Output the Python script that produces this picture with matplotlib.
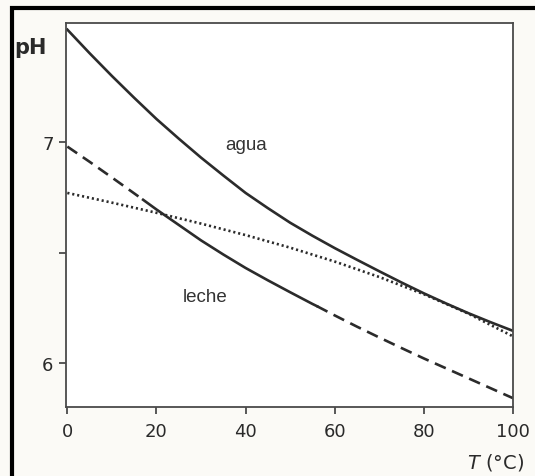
import matplotlib
matplotlib.use("Agg")
import matplotlib.pyplot as plt
from matplotlib.patches import Rectangle
import numpy as np

# ---- data ----
agua_T = [0, 5, 10, 15, 20, 25, 30, 35, 40, 45, 50, 55, 60, 65, 70, 75, 80, 85, 90, 95, 100]
agua_pH = [7.51, 7.403, 7.30, 7.201, 7.105, 7.016, 6.93, 6.849, 6.77, 6.701, 6.635,
           6.576, 6.52, 6.467, 6.415, 6.364, 6.315, 6.269, 6.225, 6.184, 6.145]

dotted_T = [0, 10, 20, 30, 40, 50, 60, 70, 80, 90, 100]
dotted_pH = [6.77, 6.726, 6.68, 6.631, 6.579, 6.522, 6.459, 6.389, 6.311, 6.223, 6.12]

leche_T = [0, 5, 10, 15, 17, 20, 25, 30, 35, 40, 45, 50, 55, 56, 60, 65, 70, 75, 80, 85, 90, 95, 100]
leche_pH = [6.98, 6.911, 6.84, 6.768, 6.739, 6.695, 6.625, 6.555, 6.491, 6.43, 6.374, 6.32,
            6.267, 6.257, 6.215, 6.164, 6.115, 6.067, 6.02, 5.975, 5.93, 5.885, 5.84]
leche_solid_from, leche_solid_to = 17, 56

x_ticks = [0, 20, 40, 60, 80, 100]
y_ticks = [6, 6.5, 7]
y_ticklabels = ["6", "", "7"]

# ---- figure ----
W, H = 535, 477
fig = plt.figure(figsize=(W / 100, H / 100), dpi=100)
fig.patch.set_facecolor("#fbfaf6")

left, right = 66 / W, 513 / W
bottom, top = (H - 408) / H, (H - 24) / H
ax = fig.add_axes([left, bottom, right - left, top - bottom])
ax.set_facecolor("#ffffff")

ink = "#2b2b2b"
lw = 1.9

ax.plot(agua_T, agua_pH, color=ink, lw=lw, solid_joinstyle="round")
ax.plot(dotted_T, dotted_pH, color=ink, lw=1.9, linestyle=(0, (0.8, 1.1)))

lT = np.array(leche_T)
lP = np.array(leche_pH)
m1 = lT <= leche_solid_from
m2 = (lT >= leche_solid_from) & (lT <= leche_solid_to)
m3 = lT >= leche_solid_to
dash = (0, (4.5, 2.6))
ax.plot(lT[m1], lP[m1], color=ink, lw=lw, linestyle=dash)
ax.plot(lT[m2], lP[m2], color=ink, lw=lw, solid_joinstyle="round")
ax.plot(lT[m3], lP[m3], color=ink, lw=lw, linestyle=dash)

ax.set_xlim(-0.3, 100)
ax.set_ylim(5.80, 7.54)

ax.set_xticks(x_ticks)
ax.set_yticks(y_ticks)
ax.set_yticklabels(y_ticklabels)

for s in ax.spines.values():
    s.set_color("#4a4a4a")
    s.set_linewidth(1.3)

ax.tick_params(axis="both", direction="out", length=5, width=1.3, colors="#4a4a4a",
               labelcolor="#2a2a2a", labelsize=13)
ax.tick_params(axis="x", pad=6)
ax.tick_params(axis="y", pad=4)

ax.text(40.1, 6.99, "agua", fontsize=13.5, family="Liberation Sans", color="#333333",
        ha="center", va="center")
ax.text(30.9, 6.30, "leche", fontsize=13.5, family="Liberation Sans", color="#333333",
        ha="center", va="center")

fig.text(30 / W, 1 - 48 / H, "pH", fontsize=15, fontweight="bold", color="#2a2a2a",
         ha="center", va="center")
fig.text(496 / W, 1 - 463 / H, r"$\mathit{T}$ (°C)", fontsize=14, color="#2a2a2a",
         ha="center", va="center")

# black scan border (top and left)
fig.add_artist(Rectangle((11.5 / W, -0.2), 1.5, (H - 9) / H + 0.2,
                         transform=fig.transFigure, fill=False,
                         edgecolor="black", linewidth=3.0, clip_on=False))

fig.savefig("out.png", dpi=100, facecolor=fig.get_facecolor())
